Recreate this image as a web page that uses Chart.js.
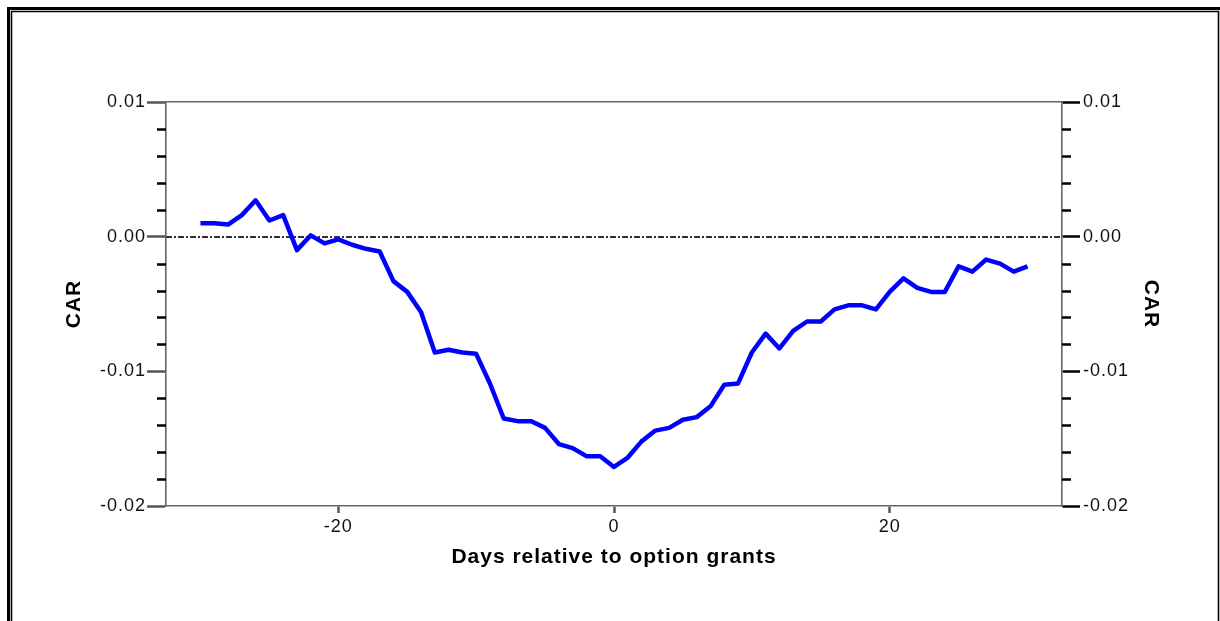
<!DOCTYPE html>
<html>
<head>
<meta charset="utf-8">
<script src="https://cdn.jsdelivr.net/npm/chart.js@4/dist/chart.umd.min.js"></script>
<style>
  html,body{margin:0;padding:0;background:#fff}
  canvas{display:block}
</style>
</head>
<body>
<canvas id="car" width="1220" height="621"></canvas>
<script>
// event window (days) and cumulative abnormal return
const days = [-30,-29,-28,-27,-26,-25,-24,-23,-22,-21,-20,-19,-18,-17,-16,-15,-14,-13,-12,-11,-10,
  -9,-8,-7,-6,-5,-4,-3,-2,-1,0,1,2,3,4,5,6,7,8,9,10,11,12,13,14,15,16,17,18,19,20,
  21,22,23,24,25,26,27,28,29,30];
const car = [0.0010,0.0010,0.0009,0.0016,0.0027,0.0012,0.0016,-0.0010,0.0001,-0.0005,-0.0002,
  -0.0006,-0.0009,-0.0011,-0.0033,-0.0041,-0.0056,-0.0086,-0.0084,-0.0086,-0.0087,
  -0.0109,-0.0135,-0.0137,-0.0137,-0.0142,-0.0154,-0.0157,-0.0163,-0.0163,-0.0171,
  -0.0164,-0.0152,-0.0144,-0.0142,-0.0136,-0.0134,-0.0126,-0.0110,-0.0109,-0.0086,
  -0.0072,-0.0083,-0.0070,-0.0063,-0.0063,-0.0054,-0.0051,-0.0051,-0.0054,-0.0041,
  -0.0031,-0.0038,-0.0041,-0.0041,-0.0022,-0.0026,-0.0017,-0.0020,-0.0026,-0.0022];

const xTicks = [-20,0,20];
const yMajor = [0.01,0,-0.01,-0.02];
const yMinor = [0.008,0.006,0.004,0.002,-0.002,-0.004,-0.006,-0.008,
  -0.012,-0.014,-0.016,-0.018];
const refLines = [0];

const FONT = "'Liberation Sans', Arial, Helvetica, sans-serif";
const SPACING = "1px";

const spacing = {
  id:"spacing",
  beforeLayout(c){ c.ctx.letterSpacing = SPACING; },
  beforeDraw(c){ c.ctx.letterSpacing = SPACING; }
};

// dash-dot reference line at zero
const refLine = {
  id:"refLine",
  beforeDatasetsDraw(c){
    const {ctx, chartArea:a, scales:{y}} = c;
    ctx.save();
    ctx.strokeStyle="#333"; ctx.lineWidth=2.2; ctx.setLineDash([6,2,2,2]);
    refLines.forEach(v=>{
      const py = Math.round(y.getPixelForValue(v));
      ctx.beginPath(); ctx.moveTo(a.left,py); ctx.lineTo(a.right,py); ctx.stroke();
    });
    ctx.restore();
  }
};

// short minor ticks on both y axes
const minorTicks = {
  id:"minorTicks",
  afterDraw(c){
    const {ctx, chartArea:a, scales:{y}} = c;
    ctx.save();
    ctx.strokeStyle="#000"; ctx.lineWidth=2.5;
    yMinor.forEach(v=>{
      const py = Math.round(y.getPixelForValue(v))+0.5;
      ctx.beginPath();
      ctx.moveTo(a.left-9,py); ctx.lineTo(a.left,py);
      ctx.moveTo(a.right,py); ctx.lineTo(a.right+9,py);
      ctx.stroke();
    });
    ctx.restore();
  }
};

// double frame round the picture
const frame = {
  id:"frame",
  afterDraw(c){
    const ctx=c.ctx, W=c.width, H=c.height;
    ctx.save();
    ctx.strokeStyle="#000";
    ctx.lineWidth=3;
    ctx.beginPath();
    ctx.moveTo(8.5,H); ctx.lineTo(8.5,8.5); ctx.lineTo(W,8.5);
    ctx.stroke();
    ctx.lineWidth=1.6;
    ctx.beginPath();
    ctx.moveTo(11.5,H); ctx.lineTo(11.5,11.5); ctx.lineTo(1218.5,11.5); ctx.lineTo(1218.5,H);
    ctx.stroke();
    ctx.restore();
  }
};

const fixW = w => s => { s.width = w; };
const fixH = h => s => { s.height = h; };
const setTicks = arr => s => { s.ticks = arr.map(v=>({value:v})); };
const lbl = v => v.toFixed(2);

new Chart(document.getElementById("car").getContext("2d"),{
  type:"line",
  data:{
    datasets:[{
      data: days.map((d,i)=>({x:d,y:car[i]})),
      borderColor:"#0000ff", borderWidth:4.5, pointRadius:0, tension:0,
      borderJoinStyle:"round", fill:false
    }]
  },
  options:{
    responsive:false, animation:false,
    layout:{padding:{top:102,left:0,right:0,bottom:0}},
    plugins:{legend:{display:false}, tooltip:{enabled:false}},
    scales:{
      x:{
        type:"linear", position:"bottom", min:-32.5, max:32.5,
        afterBuildTicks:setTicks(xTicks), afterFit:fixH(115),
        grid:{drawOnChartArea:false, tickLength:7, tickColor:"#555", tickWidth:2.5},
        border:{color:"#666", width:1.6},
        ticks:{font:{family:FONT,size:18}, color:"#111", padding:3, maxRotation:0,
          callback:v=>String(v)},
        title:{display:true, text:"Days relative to option grants", color:"#000",
          font:{family:FONT,size:21,weight:"bold"}, padding:{top:0,bottom:51}}
      },
      x2:{
        type:"linear", position:"top", min:-32.5, max:32.5, afterFit:fixH(0),
        grid:{drawOnChartArea:false, drawTicks:false},
        border:{color:"#666", width:1.6},
        ticks:{display:false}
      },
      y:{
        type:"linear", position:"left", min:-0.02, max:0.01,
        afterBuildTicks:setTicks(yMajor), afterFit:fixW(166),
        grid:{drawOnChartArea:false, tickLength:19, tickColor:"#555", tickWidth:2.5},
        border:{color:"#666", width:1.6},
        ticks:{font:{family:FONT,size:18}, color:"#111", padding:1, callback:lbl},
        title:{display:true, text:"CAR", color:"#000",
          font:{family:FONT,size:21,weight:"bold"}, padding:{top:62,bottom:0}}
      },
      y2:{
        type:"linear", position:"right", min:-0.02, max:0.01,
        afterBuildTicks:setTicks(yMajor), afterFit:fixW(158),
        grid:{drawOnChartArea:false, tickLength:18, tickColor:"#000", tickWidth:2.5},
        border:{color:"#666", width:1.6},
        ticks:{font:{family:FONT,size:18}, color:"#111", padding:3, callback:lbl},
        title:{display:true, text:"CAR", color:"#000",
          font:{family:FONT,size:21,weight:"bold"}, padding:{top:57,bottom:0}}
      }
    }
  },
  plugins:[spacing, refLine, minorTicks, frame]
});
</script>
</body>
</html>
